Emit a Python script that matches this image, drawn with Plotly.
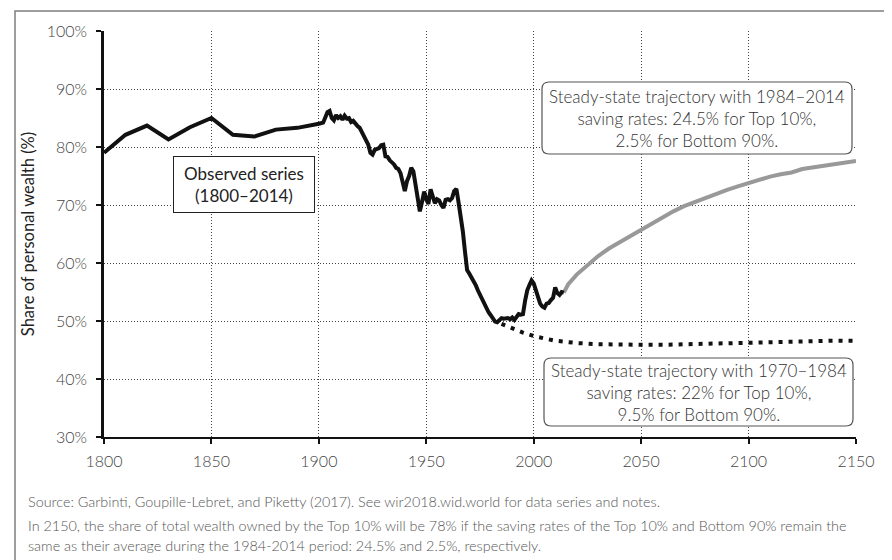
import plotly.graph_objects as go

# ---------------- data ----------------
obs_years = [1800, 1810, 1820, 1830, 1840, 1850, 1860, 1870, 1880, 1890, 1900, 1902, 1904, 1905,
             1906, 1907, 1908, 1909, 1910, 1911, 1912, 1913, 1914, 1915, 1916, 1917, 1918, 1919,
             1920, 1921, 1922, 1923, 1924, 1925, 1926, 1927, 1928, 1929, 1930, 1931, 1932, 1933,
             1934, 1935, 1936, 1937, 1938, 1939, 1940, 1941, 1942, 1943, 1944, 1945, 1946, 1947,
             1948, 1949, 1950, 1951, 1952, 1953, 1954, 1955, 1956, 1957, 1958, 1959, 1960, 1961,
             1962, 1963, 1964, 1965, 1966, 1967, 1968, 1969, 1970, 1971, 1972, 1973, 1974, 1975,
             1976, 1977, 1978, 1979, 1980, 1981, 1982, 1983, 1984, 1985, 1986, 1987, 1988, 1989,
             1990, 1991, 1992, 1993, 1994, 1995, 1996, 1997, 1998, 1999, 2000, 2001, 2002, 2003,
             2004, 2005, 2006, 2007, 2008, 2009, 2010, 2011, 2012, 2013, 2014]
obs_values = [79.0, 82.1, 83.7, 81.3, 83.4, 85.0, 82.1, 81.8, 83.0, 83.3, 84.0, 84.2, 86.0, 86.2,
              85.0, 84.6, 85.5, 85.0, 85.3, 84.7, 85.4, 84.9, 85.0, 84.3, 84.5, 84.0, 83.6, 83.3,
              82.5, 81.6, 81.0, 80.4, 79.0, 78.7, 79.5, 79.6, 79.8, 80.3, 80.4, 78.4, 78.3, 77.7,
              77.4, 77.0, 76.4, 76.2, 75.5, 74.0, 72.4, 74.1, 75.0, 76.4, 75.8, 73.5, 70.5, 68.9,
              70.5, 72.3, 71.0, 70.2, 72.7, 71.5, 70.3, 71.0, 70.8, 70.0, 69.5, 70.9, 71.0, 70.8,
              71.2, 72.4, 72.8, 70.5, 68.2, 65.5, 62.0, 58.8, 58.2, 57.6, 57.0, 56.2, 55.3, 54.5,
              53.6, 52.8, 52.1, 51.5, 51.0, 50.3, 49.9, 49.8, 50.2, 50.5, 50.4, 50.5, 50.5, 50.3,
              50.6, 50.2, 50.8, 51.2, 51.1, 51.2, 53.5, 55.3, 56.2, 57.0, 56.5, 55.3, 54.0, 53.0,
              52.5, 52.3, 53.0, 53.1, 53.6, 54.0, 55.8, 54.8, 54.5, 55.0, 54.9]

high_years = [2014, 2016, 2020, 2025, 2030, 2035, 2040, 2045, 2050, 2055, 2060, 2065, 2070, 2075,
              2080, 2085, 2090, 2095, 2100, 2105, 2110, 2115, 2120, 2125, 2130, 2135, 2140, 2145, 2150]
high_values = [54.9, 56.3, 58.0, 59.7, 61.2, 62.5, 63.6, 64.7, 65.7, 66.9, 67.9, 68.9, 69.8, 70.5,
               71.3, 71.9, 72.6, 73.2, 73.8, 74.4, 74.9, 75.3, 75.6, 76.2, 76.5, 76.7, 77.0, 77.3, 77.6]

low_years = [1985, 1990, 1995, 2000, 2005, 2010, 2015, 2020, 2030, 2040, 2050, 2060, 2070, 2080,
             2090, 2100, 2110, 2120, 2130, 2140, 2150]
low_values = [49.5, 48.7, 48.0, 47.4, 47.0, 46.6, 46.4, 46.2, 46.0, 45.9, 45.9, 45.9, 46.0, 46.1,
              46.2, 46.3, 46.4, 46.5, 46.5, 46.6, 46.6]

x_ticks = [1800, 1850, 1900, 1950, 2000, 2050, 2100, 2150]
y_ticks = [30, 40, 50, 60, 70, 80, 90, 100]
y_tick_labels = ["30%", "40%", "50%", "60%", "70%", "80%", "90%", "100%"]

label_observed = "Observed series<br>(1800–2014)"
label_high = "Steady-state trajectory with 1984–2014<br>saving rates: 24.5% for Top 10%,<br>2.5% for Bottom 90%."
label_low = "Steady-state trajectory with 1970–1984<br>saving rates: 22% for Top 10%,<br>9.5% for Bottom 90%."
source_text = "Source: Garbinti, Goupille-Lebret, and Piketty (2017). See wir2018.wid.world for data series and notes."
note_line1 = "In 2150, the share of total wealth owned by the Top 10% will be 78% if the saving rates of the Top 10% and Bottom 90% remain the"
note_line2 = "same as their average during the 1984-2014 period: 24.5% and 2.5%, respectively."

# ---------------- layout geometry (pixels) ----------------
W, H = 892, 560
L, R, T, B = 96, 848, 23, 429
X0, X1 = 1800, 2150
Y0, Y1 = 30, 100


def px_to_paper_x(px):
    return (px - L) / (R - L)


def px_to_paper_y(py):
    return (B - py) / (B - T)


def px_to_x(px):
    return X0 + (px - L) / (R - L) * (X1 - X0)


def px_to_y(py):
    return Y0 + (B - py) / (B - T) * (Y1 - Y0)


def rounded_box(px0, py0, px1, py1, r=7):
    xa, xb = px_to_x(px0), px_to_x(px1)
    ya, yb = px_to_y(py1), px_to_y(py0)  # bottom, top
    rx = r / (R - L) * (X1 - X0)
    ry = r / (B - T) * (Y1 - Y0)
    return (f"M {xa+rx},{yb} L {xb-rx},{yb} Q {xb},{yb} {xb},{yb-ry} "
            f"L {xb},{ya+ry} Q {xb},{ya} {xb-rx},{ya} L {xa+rx},{ya} "
            f"Q {xa},{ya} {xa},{ya+ry} L {xa},{yb-ry} Q {xa},{yb} {xa+rx},{yb} Z")


FONT = "Lato, 'Open Sans', sans-serif"

fig = go.Figure()
fig.add_trace(go.Scatter(x=low_years, y=low_values, mode="lines",
                         line=dict(color="#111111", width=4, dash="4px,6px"),
                         hoverinfo="skip", showlegend=False))
fig.add_trace(go.Scatter(x=high_years, y=high_values, mode="lines",
                         line=dict(color="#999999", width=4),
                         hoverinfo="skip", showlegend=False))
fig.add_trace(go.Scatter(x=obs_years, y=obs_values, mode="lines",
                         line=dict(color="#111111", width=4),
                         hoverinfo="skip", showlegend=False))

shapes = [
    # outer frame
    dict(type="path", xref="paper", yref="paper", layer="above",
         path=(f"M {px_to_paper_x(7)},{px_to_paper_y(562)} L {px_to_paper_x(7)},{px_to_paper_y(3)} "
               f"L {px_to_paper_x(889)},{px_to_paper_y(3)} L {px_to_paper_x(889)},{px_to_paper_y(562)}"),
         line=dict(color="#7f7f7f", width=1.5)),
    # rounded boxes
    dict(type="path", xref="x", yref="y", layer="above",
         path=rounded_box(534, 74, 844, 146), fillcolor="white",
         line=dict(color="#555555", width=1.2)),
    dict(type="path", xref="x", yref="y", layer="above",
         path=rounded_box(536, 350, 845, 418), fillcolor="white",
         line=dict(color="#555555", width=1.2)),
]

TICKFONT = dict(family=FONT, size=16, color="#444444", weight=300)
BOXFONT = dict(family=FONT, size=17, color="#333333", weight=300)
FOOTFONT = dict(family=FONT, size=14.4, color="#555555", weight=300)

annotations = [
    dict(text=label_observed, x=px_to_x(236), y=px_to_y(176.5), xref="x", yref="y",
         showarrow=False, font=dict(family=FONT, size=17, color="#222222"),
         bgcolor="white", bordercolor="#222222", borderwidth=1, borderpad=0,
         width=140, height=55, align="center"),
    dict(text=label_high, x=px_to_x(689), y=px_to_y(110), xref="x", yref="y",
         showarrow=False, font=BOXFONT, align="center"),
    dict(text=label_low, x=px_to_x(690.5), y=px_to_y(384), xref="x", yref="y",
         showarrow=False, font=BOXFONT, align="center"),
    dict(text=source_text, x=px_to_paper_x(18), y=px_to_paper_y(493), xref="paper", yref="paper",
         xanchor="left", yanchor="middle", showarrow=False, font=FOOTFONT),
    dict(text=note_line1, x=px_to_paper_x(18), y=px_to_paper_y(517), xref="paper", yref="paper",
         xanchor="left", yanchor="middle", showarrow=False, font=FOOTFONT),
    dict(text=note_line2, x=px_to_paper_x(18), y=px_to_paper_y(537), xref="paper", yref="paper",
         xanchor="left", yanchor="middle", showarrow=False, font=FOOTFONT),
]

fig.update_layout(
    width=W, height=H,
    margin=dict(l=L, r=W - R, t=T, b=H - B, autoexpand=False),
    paper_bgcolor="white", plot_bgcolor="white",
    font=dict(family=FONT, size=16, color="#555555"),
    shapes=shapes, annotations=annotations,
    xaxis=dict(range=[X0, X1], tickvals=x_ticks, ticktext=[str(v) for v in x_ticks],
               showgrid=True, gridcolor="#444444", griddash="1px,2px", gridwidth=1,
               showline=True, linecolor="#111111", linewidth=2,
               ticks="outside", ticklen=5, tickwidth=2, tickcolor="#111111",
               ticklabelstandoff=4,
               tickfont=TICKFONT, zeroline=False, fixedrange=True),
    yaxis=dict(range=[Y0, Y1], tickvals=y_ticks, ticktext=y_tick_labels,
               showgrid=True, gridcolor="#444444", griddash="1px,2px", gridwidth=1,
               showline=True, linecolor="#111111", linewidth=2.5,
               ticks="outside", ticklen=5, tickwidth=2, tickcolor="#111111",
               ticklabelstandoff=6,
               tickfont=TICKFONT, zeroline=False,
               title=dict(text="Share of personal wealth (%)", standoff=8,
                          font=dict(family=FONT, size=16.5, color="#222222")),
               fixedrange=True),
)

fig.write_html("out.html")
